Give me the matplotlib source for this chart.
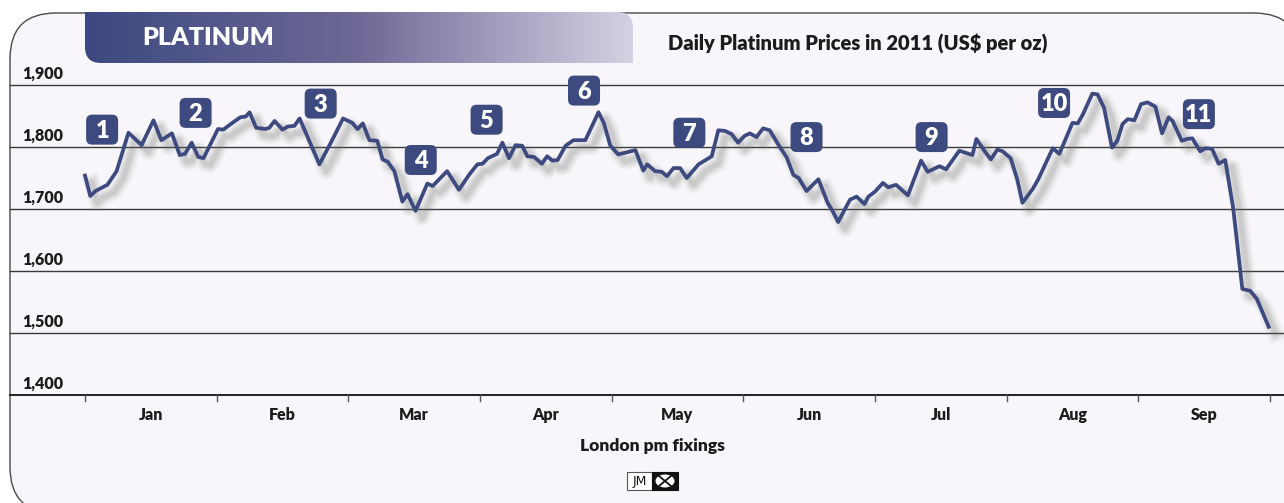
import numpy as np
import matplotlib
matplotlib.use('Agg')
import matplotlib.pyplot as plt
from matplotlib.patches import FancyBboxPatch, PathPatch, Rectangle, Ellipse
from matplotlib.path import Path
from matplotlib.lines import Line2D
from matplotlib import transforms
from matplotlib import patheffects as pe
from matplotlib.colors import LinearSegmentedColormap

plt.rcParams['font.family'] = ['Lato', 'DejaVu Sans']

# ---------------- data ----------------
months = ['Jan', 'Feb', 'Mar', 'Apr', 'May', 'Jun', 'Jul', 'Aug', 'Sep']
yticks = [1400, 1500, 1600, 1700, 1800, 1900]

# position along the time axis, in months since 1 Jan 2011
month_pos = [0.00, 0.04, 0.08, 0.17, 0.24, 0.33, 0.43, 0.52, 0.58, 0.66, 0.72, 0.76,
             0.81, 0.86, 0.90, 1.01, 1.05, 1.12, 1.18, 1.22, 1.25, 1.30, 1.37, 1.40,
             1.44, 1.50, 1.54, 1.59, 1.63, 1.78, 1.86, 1.96, 2.03, 2.07, 2.11, 2.16,
             2.22, 2.26, 2.30, 2.35, 2.41, 2.45, 2.51, 2.60, 2.64, 2.75, 2.84, 2.92,
             2.98, 3.02, 3.06, 3.13, 3.17, 3.22, 3.27, 3.32, 3.36, 3.41, 3.47, 3.51,
             3.55, 3.59, 3.65, 3.71, 3.80, 3.90, 3.94, 3.99, 4.05, 4.18, 4.24, 4.27,
             4.33, 4.38, 4.42, 4.47, 4.52, 4.57, 4.66, 4.76, 4.81, 4.86, 4.91, 4.96,
             5.01, 5.05, 5.10, 5.15, 5.20, 5.28, 5.33, 5.38, 5.42, 5.48, 5.57, 5.64,
             5.68, 5.72, 5.81, 5.86, 5.92, 5.95, 6.00, 6.06, 6.10, 6.16, 6.25, 6.35,
             6.40, 6.49, 6.54, 6.64, 6.74, 6.77, 6.84, 6.88, 6.93, 6.97, 7.03, 7.08,
             7.12, 7.20, 7.24, 7.35, 7.40, 7.50, 7.54, 7.58, 7.65, 7.69, 7.74, 7.80,
             7.84, 7.88, 7.92, 7.97, 8.02, 8.07, 8.13, 8.18, 8.23, 8.26, 8.33, 8.37,
             8.41, 8.47, 8.51, 8.56, 8.61, 8.66, 8.72, 8.79, 8.85, 8.90, 8.95, 8.99]

price = [1754, 1721, 1729, 1739, 1761, 1823, 1803, 1843, 1811, 1822, 1787, 1789,
         1807, 1784, 1782, 1829, 1828, 1839, 1848, 1849, 1856, 1831, 1829, 1831,
         1842, 1828, 1833, 1834, 1846, 1772, 1804, 1846, 1839, 1829, 1838, 1811,
         1810, 1780, 1776, 1761, 1712, 1724, 1697, 1741, 1737, 1761, 1731, 1756,
         1772, 1773, 1782, 1789, 1807, 1782, 1803, 1802, 1785, 1784, 1773, 1785,
         1778, 1779, 1802, 1811, 1811, 1856, 1839, 1802, 1788, 1795, 1762, 1772,
         1761, 1760, 1753, 1766, 1766, 1750, 1772, 1785, 1827, 1826, 1821, 1807,
         1818, 1822, 1816, 1830, 1827, 1799, 1783, 1755, 1750, 1729, 1748, 1710,
         1696, 1679, 1715, 1720, 1708, 1720, 1728, 1742, 1735, 1739, 1722, 1778,
         1760, 1769, 1764, 1794, 1787, 1813, 1791, 1780, 1796, 1793, 1782, 1748,
         1710, 1733, 1748, 1798, 1789, 1839, 1838, 1853, 1886, 1885, 1863, 1799,
         1810, 1837, 1845, 1843, 1869, 1872, 1865, 1822, 1848, 1842, 1810, 1813,
         1814, 1793, 1798, 1797, 1773, 1779, 1702, 1571, 1568, 1555, 1530, 1510]

event_labels = ['1', '2', '3', '4', '5', '6', '7', '8', '9', '10', '11']
event_month = [0.13, 0.84, 1.79, 2.55, 3.05, 3.79, 4.59, 5.48, 6.43, 7.36, 8.46]
event_price = [1828, 1855, 1870, 1779, 1844, 1891, 1823, 1816, 1816, 1871, 1853]

# ---------------- figure ----------------
W, H = 1284, 503
LINE = '#3D4A80'
TXT = '#1c1c1c'
WT = 'heavy'
fig = plt.figure(figsize=(W / 100, H / 100), dpi=100, facecolor='white')

bg = fig.add_axes([0, 0, 1, 1])
bg.set_xlim(0, W)
bg.set_ylim(H, 0)
bg.axis('off')

frame = FancyBboxPatch((10, 13), 1290, 500, boxstyle='round,pad=0,rounding_size=46',
                       fc='#F8F6FA', ec='#4a4a4a', lw=1.0, zorder=0)
bg.add_patch(frame)

# gradient banner
r = 16
verts = [(85, 12), (633 - r, 12), (633, 12), (633, 12 + r), (633, 63),
         (85 + r, 63), (85, 63), (85, 63 - r), (85, 12)]
codes = [Path.MOVETO, Path.LINETO, Path.CURVE3, Path.CURVE3, Path.LINETO,
         Path.LINETO, Path.CURVE3, Path.CURVE3, Path.CLOSEPOLY]
banner = PathPatch(Path(verts, codes), fc='none', ec='none', zorder=2)
bg.add_patch(banner)
cmap = LinearSegmentedColormap.from_list('ban', ['#3C4980', '#6E6996', '#D4D1E3'])
img = bg.imshow(np.linspace(0, 1, 256)[None, :], cmap=cmap, extent=(85, 633, 63, 12),
                aspect='auto', zorder=2, interpolation='bilinear')
img.set_clip_path(banner)
bg.set_xlim(0, W)
bg.set_ylim(H, 0)

bg.text(142, 38, 'PLATINUM', color='white', fontsize=18, fontweight=WT,
        ha='left', va='center', zorder=3)
bg.text(668, 44, 'Daily Platinum Prices in 2011 (US$ per oz)', color=TXT,
        fontsize=14.5, fontweight=WT, ha='left', va='center', zorder=3)
bg.text(653, 446, 'London pm fixings', color=TXT, fontsize=12.5,
        fontweight=WT, ha='center', va='center', zorder=3)

# JM logo
bg.add_patch(Rectangle((627, 472), 25, 18, fc='white', ec='#555', lw=0.8, zorder=3))
bg.text(639.5, 481.5, 'JM', fontsize=9, ha='center', va='center', color='#111', zorder=4,
        family='DejaVu Sans')
bg.add_patch(Rectangle((652, 472), 26, 18, fc='#111', ec='#111', lw=0.8, zorder=3))
bg.add_patch(Ellipse((665, 481), 19, 13, fc='white', ec='none', zorder=4))
bg.plot([659, 671], [476, 486], color='#111', lw=1.3, zorder=5)
bg.plot([659, 671], [486, 476], color='#111', lw=1.3, zorder=5)

# main axes
ax = fig.add_axes([85 / W, 1 - 395 / H, 1185 / W, 310 / H])
ax.set_xlim(0, len(months))
ax.set_ylim(yticks[0], yticks[-1])
ax.axis('off')

tr_grid = transforms.blended_transform_factory(bg.transData, ax.transData)
tr_lab = tr_grid + transforms.ScaledTranslation(0, 3 / 100, fig.dpi_scale_trans)
for v in yticks:
    bottom = v == yticks[0]
    ax.add_line(Line2D([10, W], [v, v], transform=tr_grid, color='#111' if bottom else '#3a3a3a',
                       lw=1.3 if bottom else 1.0, clip_on=False, zorder=1))
    ax.text(22, v, f'{v:,}', transform=tr_lab, ha='left', va='bottom', fontsize=11.5,
            fontweight=WT, color=TXT)

tr_x = transforms.blended_transform_factory(ax.transData, bg.transData)
for i in range(len(months) + 1):
    ax.add_line(Line2D([i, i], [395, 401], transform=tr_x, color='#555', lw=1.0, clip_on=False))
for i, mname in enumerate(months):
    ax.text(i + 0.5, 415, mname, transform=tr_x, ha='center', va='center', fontsize=11.5,
            fontweight=WT, color=TXT)

shadow = [pe.SimpleLineShadow(offset=(5, -5), shadow_color='#6f6f6f', alpha=a, linewidth=w)
          for w, a in ((12, 0.06), (9, 0.08), (6, 0.10), (3.5, 0.12))]
ax.plot(month_pos, price, color=LINE, lw=2.7, solid_joinstyle='round', clip_on=False,
        zorder=5, path_effects=shadow + [pe.Normal()])

# numbered event boxes
for lab, m, v in zip(event_labels, event_month, event_price):
    px, py = ax.transData.transform((m, v))
    box = FancyBboxPatch((px - 16, py - 15), 32, 30, boxstyle='round,pad=0,rounding_size=6',
                         fc=LINE, ec='none', transform=transforms.IdentityTransform(),
                         zorder=6, clip_on=False)
    ax.add_artist(box)
    ax.text(m, v, lab, ha='center', va='center', fontsize=17, fontweight=WT,
            color='white', zorder=7, clip_on=False,
            transform=ax.transData + transforms.ScaledTranslation(0, -1 / 100, fig.dpi_scale_trans))

fig.savefig('out.png', dpi=100, facecolor='white')
